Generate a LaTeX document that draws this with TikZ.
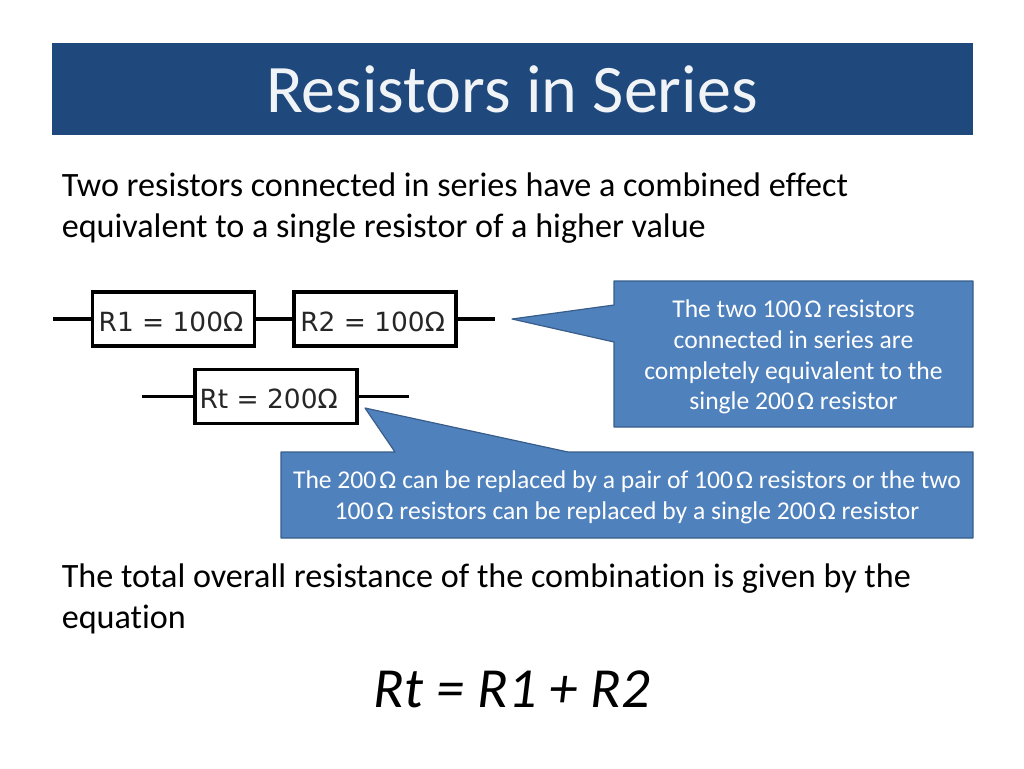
\documentclass[tikz,border=0pt]{standalone}
\usepackage{fontspec}
\setmainfont[Ligatures=NoCommon]{Carlito}
\newfontfamily\resfont{DejaVu Sans}
\definecolor{titleblue}{HTML}{1F497D}
\definecolor{callfill}{HTML}{4F81BD}
\definecolor{calledge}{HTML}{385D8A}
\newcommand{\ohm}[1]{#1\kern0.12em Ω}
\tikzset{
  titlebar/.style={fill=titleblue,draw=none,minimum width=921*0.75pt,minimum height=92*0.75pt,inner sep=0pt,
    text=white!94!titleblue,font=\fontsize{51pt}{56pt}\selectfont},
  bodytext/.style={anchor=base west,inner sep=0pt,font=\fontsize{25.6pt}{30pt}\selectfont,text=black},
  resistor/.style={draw=black,fill=white,line width=2.3pt,minimum width=162*0.75pt,minimum height=54*0.75pt,inner sep=0pt,
    text depth=0pt,font=\resfont\fontsize{19.8pt}{22pt}\selectfont,text=black!85},
  wire/.style={draw=black,line width=2.3pt},
  callout/.style={fill=callfill,draw=calledge,line width=0.9pt,line join=round},
  calltext/.style={align=center,inner sep=0pt,text=white,font=\fontsize{19.2pt}{23pt}\selectfont},
}
\begin{document}
\begin{tikzpicture}[x=0.75pt,y=-0.75pt]
\useasboundingbox (0,0) rectangle (1024,768);
\node[titlebar] (title) at (512,89) {Resistors in Series};
\node[bodytext] (intro1) at (61.5,196) {Two resistors connected in series have a combined effect};
\node[bodytext] (intro2) at (61.5,237) {equivalent to a single resistor of a higher value};
% resistors
\node[resistor,text height=19pt] (r1) at (173.3,319) {\hspace*{-3.5pt}R1 = 100Ω};
\node[resistor,text height=19pt] (r2) at (375,319) {\hspace*{-3.5pt}R2 = 100Ω};
\node[resistor,text height=17.4pt] (rt) at (276,396.7) {\hspace*{-11pt}Rt = 200Ω};
\coordinate (a) at (53,319);
\coordinate (b) at (495,319);
\coordinate (c) at (141.7,396.7);
\coordinate (d) at (409.3,396.7);
\draw[wire] (a) -- (r1.west);
\draw[wire] (r1.east) -- (r2.west);
\draw[wire] (r2.east) -- (b);
\draw[wire] (c) -- (rt.west);
\draw[wire] (rt.east) -- (d);
% callouts
\draw[callout] (614,281) -- (973,281) -- (973,427) -- (614,427) -- (614,342) -- (512,319) -- (614,305) -- cycle;
\draw[callout] (281,452) -- (395,452) -- (365,408) -- (568,452) -- (973,452) -- (973,538) -- (281,538) -- cycle;
\node[calltext] (note1) at (793.5,357) {The two \ohm{100} resistors\\connected in series are\\completely equivalent to the\\single \ohm{200} resistor};
\node[calltext] (note2) at (627,497) {The \ohm{200} can be replaced by a pair of \ohm{100} resistors or the two\\\ohm{100} resistors can be replaced by a single \ohm{200} resistor};
\node[bodytext] (total1) at (61.5,587) {The total overall resistance of the combination is given by the};
\node[bodytext] (total2) at (61.5,628) {equation};
\node[anchor=base,inner sep=0pt,font=\fontsize{42.5pt}{46pt}\selectfont\itshape] (eq) at (512,707) {Rt = R1 + R2};
\end{tikzpicture}
\end{document}
